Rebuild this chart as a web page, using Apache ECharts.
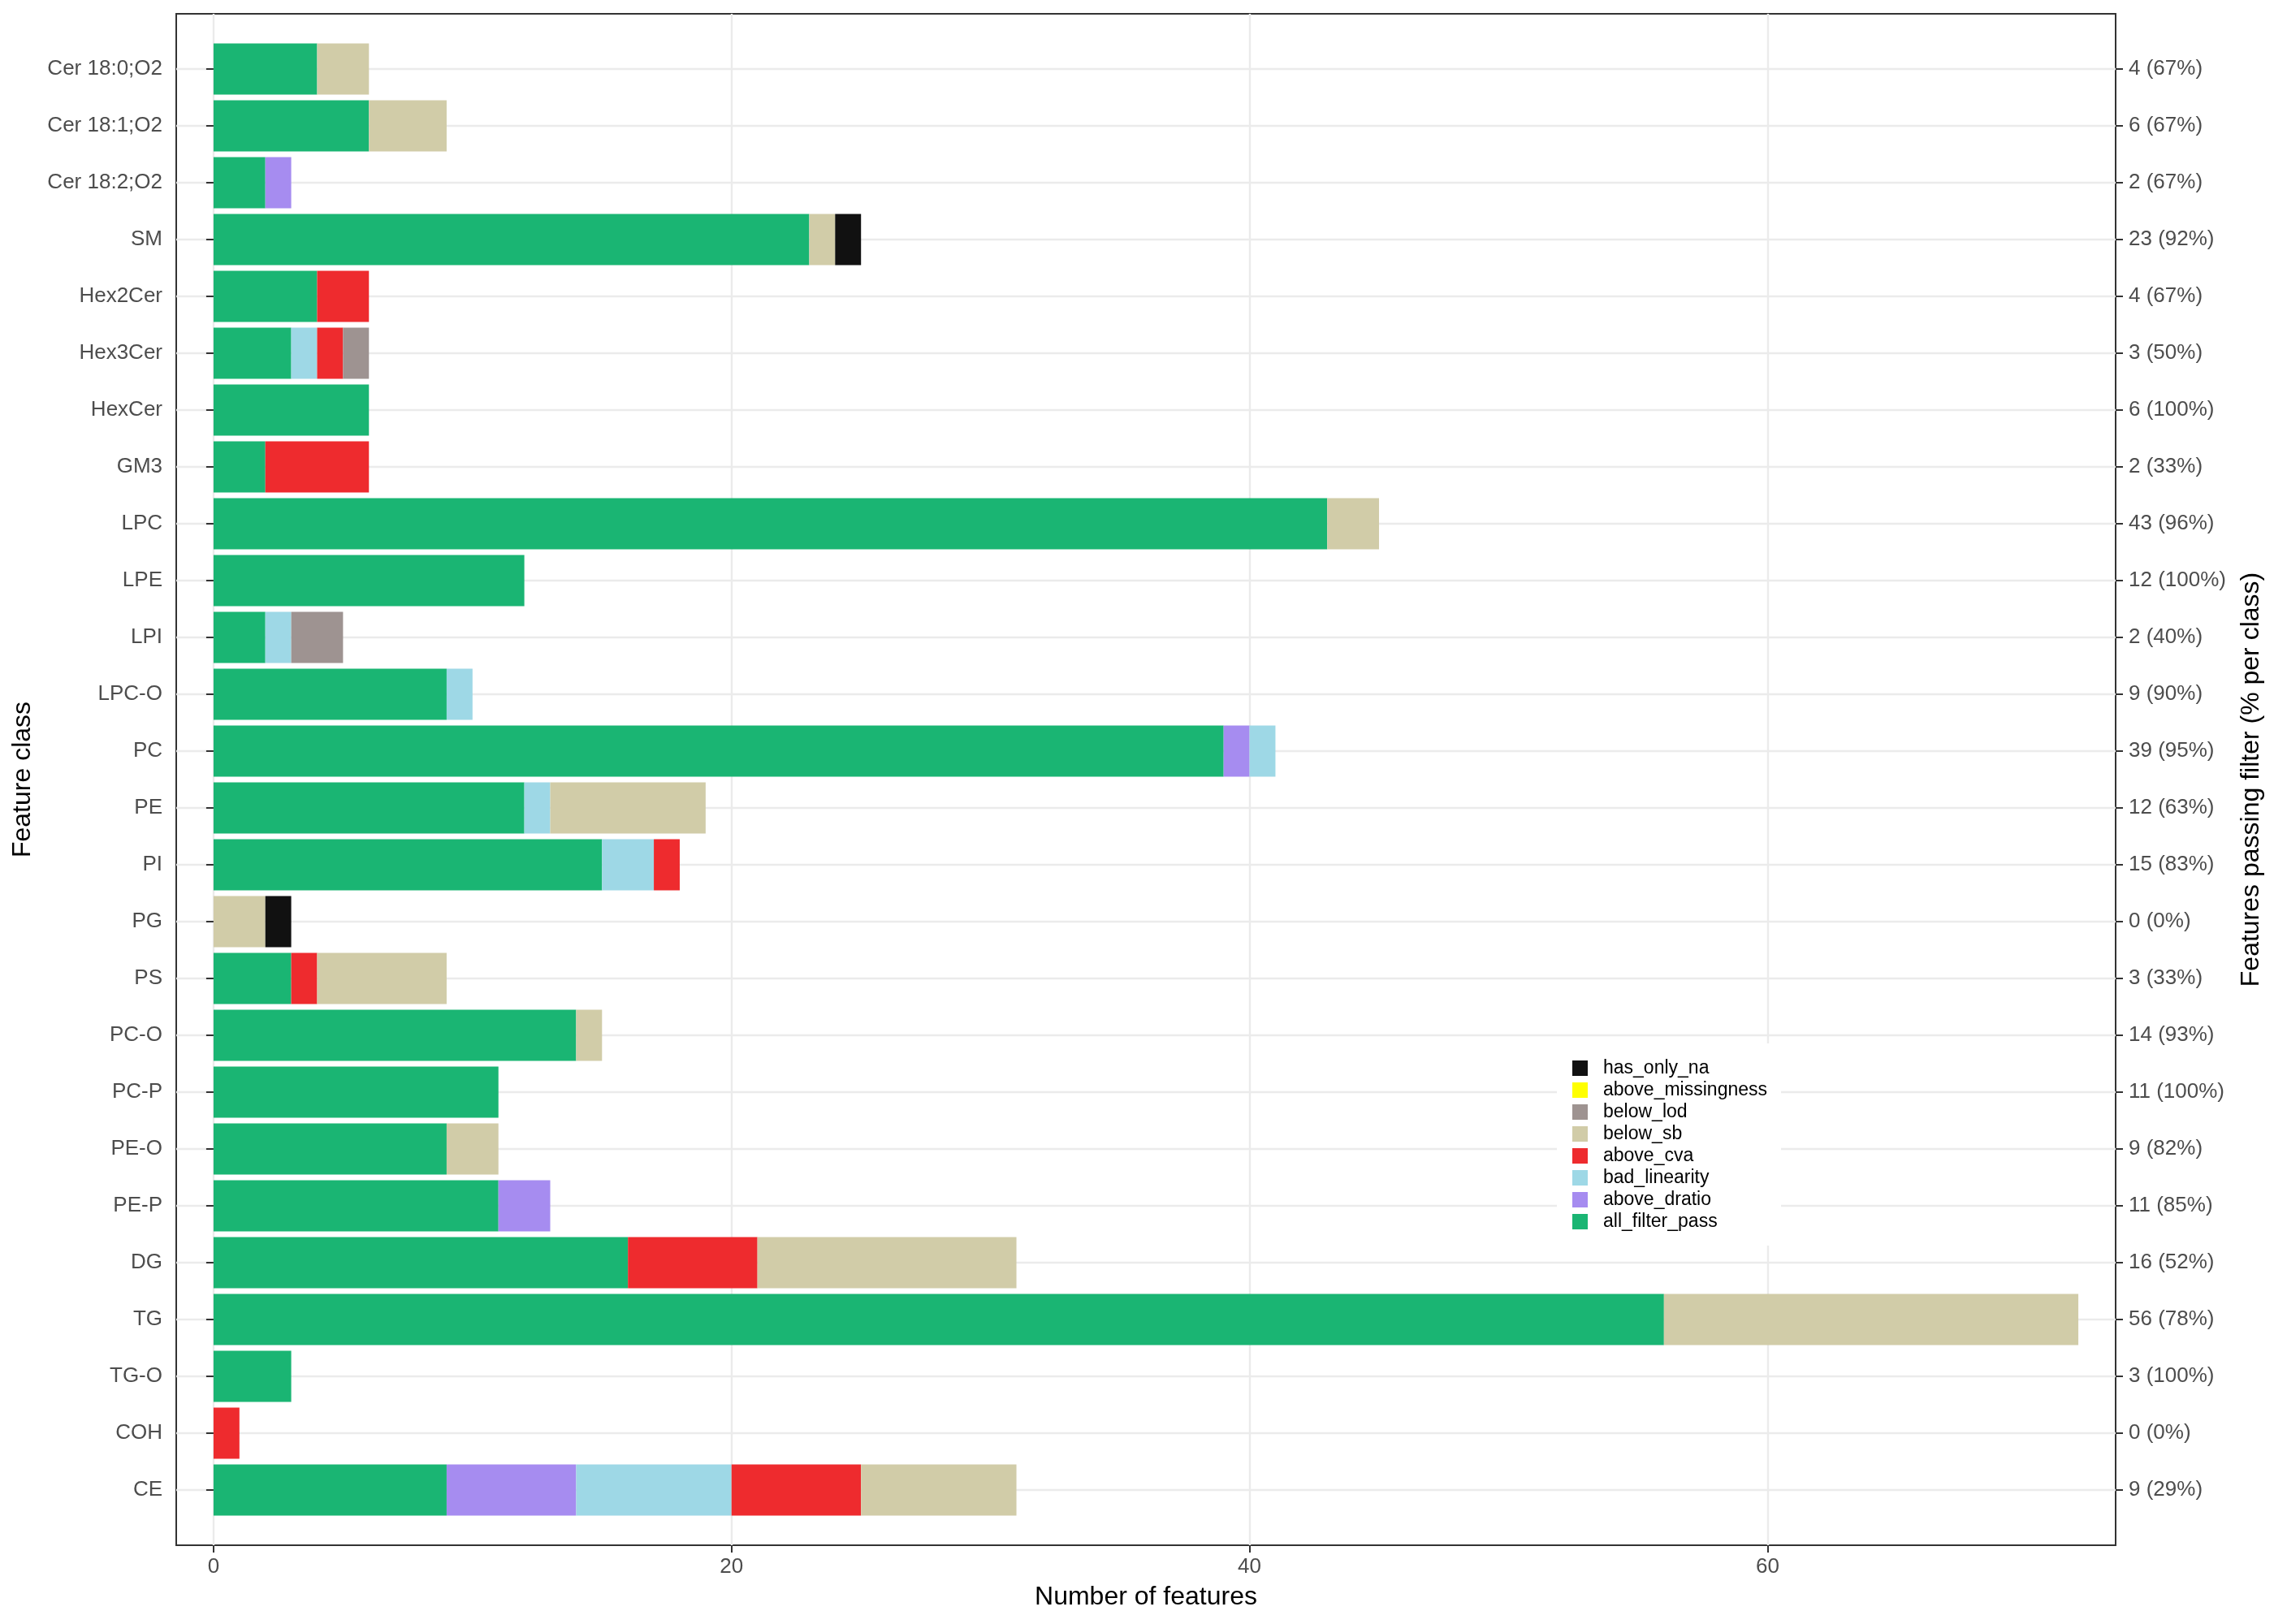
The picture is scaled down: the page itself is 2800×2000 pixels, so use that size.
<!DOCTYPE html>
<html>
<head>
<meta charset="utf-8">
<script src="https://cdn.jsdelivr.net/npm/echarts@6.0.0/dist/echarts.min.js"></script>
<style>
  html, body { margin: 0; padding: 0; background: #fff; }
  #chart { width: 2800px; height: 2000px; }
</style>
</head>
<body>
<div id="chart"></div>
<script>
// classes top to bottom
const classes = ['Cer 18:0;O2', 'Cer 18:1;O2', 'Cer 18:2;O2', 'SM', 'Hex2Cer', 'Hex3Cer', 'HexCer', 'GM3',
    'LPC', 'LPE', 'LPI', 'LPC-O', 'PC', 'PE', 'PI', 'PG', 'PS', 'PC-O', 'PC-P', 'PE-O', 'PE-P',
    'DG', 'TG', 'TG-O', 'COH', 'CE'];

const allFilterPass    = [4, 6, 2, 23, 4, 3, 6, 2, 43, 12, 2, 9, 39, 12, 15, 0, 3, 14, 11, 9, 11, 16, 56, 3, 0, 9];
const aboveDratio      = [0, 0, 1, 0, 0, 0, 0, 0, 0, 0, 0, 0, 1, 0, 0, 0, 0, 0, 0, 0, 2, 0, 0, 0, 0, 5];
const badLinearity     = [0, 0, 0, 0, 0, 1, 0, 0, 0, 0, 1, 1, 1, 1, 2, 0, 0, 0, 0, 0, 0, 0, 0, 0, 0, 6];
const aboveCva         = [0, 0, 0, 0, 2, 1, 0, 4, 0, 0, 0, 0, 0, 0, 1, 0, 1, 0, 0, 0, 0, 5, 0, 0, 1, 5];
const belowSb          = [2, 3, 0, 1, 0, 0, 0, 0, 2, 0, 0, 0, 0, 6, 0, 2, 5, 1, 0, 2, 0, 10, 16, 0, 0, 6];
const belowLod         = [0, 0, 0, 0, 0, 1, 0, 0, 0, 0, 2, 0, 0, 0, 0, 0, 0, 0, 0, 0, 0, 0, 0, 0, 0, 0];
const aboveMissingness = [0, 0, 0, 0, 0, 0, 0, 0, 0, 0, 0, 0, 0, 0, 0, 0, 0, 0, 0, 0, 0, 0, 0, 0, 0, 0];
const hasOnlyNa        = [0, 0, 0, 1, 0, 0, 0, 0, 0, 0, 0, 0, 0, 0, 0, 1, 0, 0, 0, 0, 0, 0, 0, 0, 0, 0];

const passLabels = ['4 (67%)', '6 (67%)', '2 (67%)', '23 (92%)', '4 (67%)', '3 (50%)', '6 (100%)', '2 (33%)',
    '43 (96%)', '12 (100%)', '2 (40%)', '9 (90%)', '39 (95%)', '12 (63%)', '15 (83%)', '0 (0%)', '3 (33%)',
    '14 (93%)', '11 (100%)', '9 (82%)', '11 (85%)', '16 (52%)', '56 (78%)', '3 (100%)', '0 (0%)', '9 (29%)'];

const xTicks = [0, 20, 40, 60];
const legendOrder = ['has_only_na', 'above_missingness', 'below_lod', 'below_sb', 'above_cva',
    'bad_linearity', 'above_dratio', 'all_filter_pass'];

const FONT = "'Liberation Sans', Arial, sans-serif";
const GRID_LINE = {color: '#EBEBEB', width: 2.4};
const TICK_LINE = {color: '#333333', width: 2};
const X_MIN = -1.44;
const X_MAX = 73.44;

// panel box; bars sit in an inner area padded by ~0.97 band top and bottom
const panel = {left: 217, top: 17, width: 2388, height: 1886};
const band = 70;
const innerTop = panel.top + (panel.height - band * classes.length) / 2;

function stackBar(name, data, color) {
    return {
        name: name,
        type: 'bar',
        stack: 'total',
        xAxisIndex: 1,
        yAxisIndex: 1,
        barWidth: '90%',
        itemStyle: {color: color},
        data: data
    };
}

const myChart = echarts.init(document.getElementById('chart'));
myChart.setOption({
    animation: false,
    textStyle: {fontFamily: FONT},
    grid: [
        {left: panel.left, top: panel.top, width: panel.width, height: panel.height,
            show: true, borderColor: '#333333', borderWidth: 2, backgroundColor: 'transparent'},
        {left: panel.left, top: innerTop, width: panel.width, height: band * classes.length},
        // only used for the horizontal grid lines through the category centres
        {left: panel.left, top: innerTop - band / 2, width: panel.width, height: band * (classes.length + 1)}
    ],
    legend: {
        data: legendOrder,
        orient: 'vertical',
        left: 1917,
        top: 1285,
        padding: [19, 17, 18, 19],
        backgroundColor: '#ffffff',
        icon: 'rect',
        itemWidth: 19,
        itemHeight: 19,
        itemGap: 4,
        selectedMode: false,
        z: 10,
        textStyle: {fontSize: 23, lineHeight: 19, color: '#000000', padding: [0, 0, 0, 14]}
    },
    xAxis: [
        {
            gridIndex: 0,
            type: 'value',
            min: X_MIN,
            max: X_MAX,
            axisLine: {show: false, onZero: false},
            axisTick: {show: true, length: 9, lineStyle: TICK_LINE, customValues: xTicks},
            axisLabel: {customValues: xTicks, fontSize: 26, color: '#4D4D4D', margin: 14},
            splitLine: {show: true, lineStyle: GRID_LINE},
            name: 'Number of features',
            nameLocation: 'middle',
            nameGap: 48,
            nameTextStyle: {fontSize: 32, color: '#000000'}
        },
        {gridIndex: 1, type: 'value', min: X_MIN, max: X_MAX, show: false},
        {gridIndex: 2, type: 'value', min: X_MIN, max: X_MAX, show: false}
    ],
    yAxis: [
        {
            gridIndex: 0,
            type: 'value',
            min: 0,
            max: 1,
            show: false
        },
        {
            gridIndex: 1,
            type: 'category',
            data: classes,
            inverse: true,
            axisLine: {show: false},
            axisTick: {show: true, alignWithLabel: true, length: 9, lineStyle: TICK_LINE},
            axisLabel: {fontSize: 26, color: '#4D4D4D', margin: 17},
            splitLine: {show: false},
            name: 'Feature class',
            nameLocation: 'middle',
            nameRotate: 90,
            nameGap: 173,
            nameTextStyle: {fontSize: 32, color: '#000000'}
        },
        {
            gridIndex: 1,
            type: 'category',
            position: 'right',
            data: passLabels,
            inverse: true,
            axisLine: {show: false},
            axisTick: {show: true, alignWithLabel: true, length: 9, lineStyle: TICK_LINE},
            axisLabel: {fontSize: 26, color: '#4D4D4D', margin: 16},
            splitLine: {show: false},
            name: 'Features passing filter (% per class)',
            nameLocation: 'middle',
            nameRotate: 90,
            nameGap: 151,
            nameTextStyle: {fontSize: 32, color: '#000000'}
        },
        {
            gridIndex: 2,
            type: 'value',
            min: 0,
            max: classes.length + 1,
            interval: 1,
            inverse: true,
            axisLine: {show: false},
            axisTick: {show: false},
            axisLabel: {show: false},
            splitLine: {show: true, showMinLine: false, showMaxLine: false, lineStyle: GRID_LINE}
        }
    ],
    series: [
        stackBar('all_filter_pass', allFilterPass, '#1AB573'),
        stackBar('above_dratio', aboveDratio, '#A68CF0'),
        stackBar('bad_linearity', badLinearity, '#9ED8E6'),
        stackBar('above_cva', aboveCva, '#EE2B2E'),
        stackBar('below_sb', belowSb, '#D1CCA8'),
        stackBar('below_lod', belowLod, '#9E9391'),
        stackBar('above_missingness', aboveMissingness, '#FFFF00'),
        stackBar('has_only_na', hasOnlyNa, '#111111')
    ]
});
</script>
</body>
</html>
